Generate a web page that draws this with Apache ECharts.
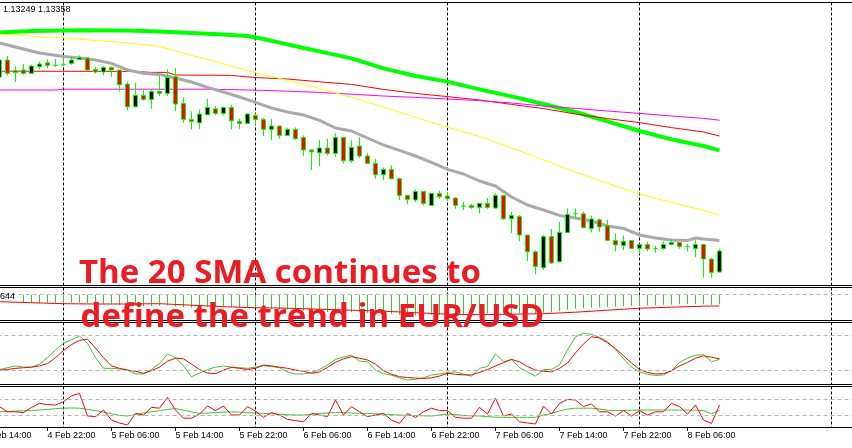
<!DOCTYPE html>
<html><head><meta charset="utf-8">
<script src="https://cdn.jsdelivr.net/npm/echarts@6/dist/echarts.min.js"></script>
<style>html,body{margin:0;padding:0;background:#fff;overflow:hidden}#c{width:852px;height:448px}</style>
</head><body><div id="c"></div>
<script>
// ---- time axis ----
const firstDay = 4, firstHour = 14, hourCount = 110;
const barOffset = 2; // first candle = 4 Feb 16:00
const tickLabels = ['4 Feb 14:00','4 Feb 22:00','5 Feb 06:00','5 Feb 14:00','5 Feb 22:00','6 Feb 06:00','6 Feb 14:00','6 Feb 22:00','7 Feb 06:00','7 Feb 14:00','7 Feb 22:00','8 Feb 06:00'];
const daySeparators = ['5 Feb 00:00','6 Feb 00:00','7 Feb 00:00','8 Feb 00:00','9 Feb 00:00'];
const headerText = '1.13249 1.13358';
const macdLabel = '644';
const captionLines = ['The 20 SMA continues to','define the trend in EUR/USD'];

// ---- EUR/USD H1 candles [open, close, low, high] ----
const ohlc = [
[1.14228,1.14313,1.14218,1.14323],[1.14313,1.14246,1.14236,1.14333],[1.14260,1.14250,1.14203,1.14283],[1.14263,1.14246,1.14239,1.14293],
[1.14246,1.14283,1.14243,1.14289],[1.14279,1.14293,1.14266,1.14306],[1.14299,1.14286,1.14273,1.14316],[1.14286,1.14286,1.14279,1.14319],
[1.14290,1.14289,1.14283,1.14329],[1.14296,1.14313,1.14289,1.14333],[1.14316,1.14326,1.14313,1.14336],[1.14323,1.14263,1.14256,1.14326],
[1.14266,1.14253,1.14246,1.14279],[1.14253,1.14276,1.14236,1.14283],[1.14276,1.14263,1.14229,1.14279],[1.14263,1.14189,1.14156,1.14263],
[1.14193,1.14079,1.14063,1.14203],[1.14079,1.14136,1.14076,1.14199],[1.14136,1.14116,1.14109,1.14166],[1.14116,1.14156,1.14069,1.14166],
[1.14156,1.14146,1.14133,1.14236],[1.14146,1.14226,1.14133,1.14266],[1.14229,1.14093,1.14059,1.14273],[1.14096,1.14016,1.13999,1.14126],
[1.14016,1.14006,1.13966,1.14056],[1.13999,1.14043,1.13969,1.14066],[1.14039,1.14076,1.14039,1.14119],[1.14069,1.14046,1.14036,1.14083],
[1.14046,1.14076,1.14036,1.14079],[1.14076,1.14009,1.13966,1.14089],[1.14006,1.13996,1.13969,1.14019],[1.13996,1.14043,1.13993,1.14046],
[1.14036,1.14016,1.13989,1.14046],[1.14016,1.13966,1.13933,1.14023],[1.13966,1.13983,1.13913,1.14019],[1.13983,1.13936,1.13919,1.13983],
[1.13936,1.13966,1.13933,1.13973],[1.13966,1.13919,1.13913,1.13976],[1.13926,1.13863,1.13833,1.13936],[1.13863,1.13853,1.13763,1.13863],
[1.13849,1.13873,1.13783,1.13913],[1.13873,1.13846,1.13836,1.13919],[1.13846,1.13926,1.13829,1.13946],[1.13926,1.13809,1.13796,1.13929],
[1.13809,1.13876,1.13799,1.13913],[1.13883,1.13833,1.13823,1.13928],[1.13833,1.13796,1.13793,1.13846],[1.13796,1.13739,1.13719,1.13819],
[1.13739,1.13766,1.13713,1.13776],[1.13766,1.13719,1.13716,1.13786],[1.13719,1.13636,1.13613,1.13726],[1.13636,1.13616,1.13593,1.13636],
[1.13613,1.13656,1.13603,1.13666],[1.13656,1.13596,1.13586,1.13656],[1.13586,1.13646,1.13586,1.13646],[1.13646,1.13629,1.13619,1.13659],
[1.13633,1.13619,1.13609,1.13653],[1.13623,1.13586,1.13569,1.13626],[1.13583,1.13583,1.13563,1.13603],[1.13586,1.13576,1.13569,1.13593],
[1.13576,1.13596,1.13546,1.13596],[1.13596,1.13576,1.13569,1.13623],[1.13573,1.13636,1.13569,1.13646],[1.13636,1.13519,1.13513,1.13636],
[1.13519,1.13536,1.13449,1.13553],[1.13531,1.13438,1.13408,1.13538],[1.13438,1.13354,1.13308,1.13438],[1.13354,1.13281,1.13241,1.13361],
[1.13274,1.13431,1.13264,1.13438],[1.13431,1.13298,1.13294,1.13468],[1.13304,1.13451,1.13301,1.13504],[1.13451,1.13541,1.13451,1.13571],
[1.13545,1.13545,1.13523,1.13571],[1.13544,1.13474,1.13471,1.13554],[1.13471,1.13518,1.13451,1.13534],[1.13514,1.13478,1.13454,1.13521],
[1.13484,1.13411,1.13411,1.13514],[1.13411,1.13388,1.13356,1.13446],[1.13385,1.13405,1.13363,1.13436],[1.13411,1.13371,1.13368,1.13413],
[1.13371,1.13391,1.13343,1.13393],[1.13391,1.13368,1.13356,1.13403],[1.13370,1.13370,1.13350,1.13383],[1.13371,1.13391,1.13363,1.13406],
[1.13391,1.13401,1.13386,1.13419],[1.13401,1.13380,1.13369,1.13403],[1.13380,1.13380,1.13355,1.13393],[1.13371,1.13391,1.13329,1.13416],
[1.13391,1.13318,1.13225,1.13393],[1.13318,1.13250,1.13225,1.13325],[1.13253,1.13358,1.13249,1.13368]
];
const lastClose = 1.13358;

// ---- moving averages: [bar index, price] ----
const sma20 = [[0,1.14398],[2,1.14378],[5,1.14348],[8,1.14330],[10,1.14323],[12,1.14313],[14,1.14296],[16,1.14263],[18,1.14247],[20,1.14241],[22,1.14223],[24,1.14203],[26,1.14176],[28,1.14153],[30,1.14128],[32,1.14101],[34,1.14073],[36,1.14053],[38,1.14038],[40,1.14011],[42,1.13973],[44,1.13958],[46,1.13923],[48,1.13888],[50,1.13861],[52,1.13833],[54,1.13801],[56,1.13766],[58,1.13743],[60,1.13708],[62,1.13683],[64,1.13628],[66,1.13588],[68,1.13563],[70,1.13536],[72,1.13523],[74,1.13508],[76,1.13483],[78,1.13471],[80,1.13438],[82,1.13423],[84,1.13413],[86,1.13411],[87,1.13423],[88,1.13418],[90,1.13411]];
const maGreen = [[0,1.14450],[4,1.14458],[10,1.14462],[16,1.14461],[20,1.14455],[24,1.14448],[28,1.14441],[31,1.14433],[33,1.14418],[35,1.14400],[38,1.14373],[40,1.14356],[44,1.14321],[48,1.14271],[52,1.14233],[56,1.14205],[60,1.14166],[64,1.14131],[68,1.14093],[72,1.14053],[76,1.14006],[80,1.13958],[84,1.13916],[88,1.13883],[90,1.13861]];
const maRed = [[0,1.14257],[17,1.14256],[19,1.14251],[21,1.14251],[22,1.14238],[29,1.14236],[30,1.14232],[32,1.14225],[36,1.14218],[40,1.14204],[44,1.14191],[48,1.14166],[52,1.14146],[56,1.14130],[60,1.14113],[64,1.14091],[68,1.14070],[72,1.14043],[76,1.14020],[80,1.14000],[84,1.13975],[88,1.13953],[90,1.13933]];
const maMagenta = [[0,1.14163],[7,1.14163],[8,1.14167],[26,1.14167],[30,1.14164],[33,1.14161],[36,1.14157],[40,1.14151],[44,1.14142],[48,1.14133],[52,1.14126],[56,1.14118],[60,1.14110],[64,1.14098],[68,1.14083],[72,1.14071],[76,1.14058],[80,1.14046],[84,1.14033],[88,1.14021],[90,1.14012]];
const maYellow = [[0,1.14442],[2,1.14437],[8,1.14423],[10,1.14417],[16,1.14398],[20,1.14381],[22,1.14358],[24,1.14336],[26,1.14316],[30,1.14271],[32,1.14248],[34,1.14231],[36,1.14211],[40,1.14171],[44,1.14126],[48,1.14078],[52,1.14026],[56,1.13977],[60,1.13931],[64,1.13873],[68,1.13813],[72,1.13753],[76,1.13696],[80,1.13643],[84,1.13601],[88,1.13561],[90,1.13538]];

// ---- MACD ----
const macdHist = [null,null,null,-0.00016,-0.00017,-0.00017,-0.00017,-0.00017,-0.00017,-0.00016,
-0.00016,-0.00017,-0.00018,-0.00018,-0.00018,-0.0002,-0.00022,-0.00022,-0.00023,-0.00022,
-0.00022,-0.00021,-0.00023,-0.00025,-0.00026,-0.00026,-0.00025,-0.00025,-0.00024,-0.00025,
-0.00026,-0.00026,-0.00026,-0.00027,-0.00028,-0.00029,-0.00029,-0.0003,-0.00032,-0.00034,
-0.00035,-0.00035,-0.00034,-0.00035,-0.00035,-0.00035,-0.00036,-0.00037,-0.00038,-0.00038,
-0.0004,-0.00041,-0.00041,-0.00041,-0.0004,-0.0004,-0.00039,-0.00039,-0.00039,-0.00039,
-0.00038,-0.00038,-0.00037,-0.00037,-0.00037,-0.00037,-0.00037,-0.00038,-0.00036,-0.00035,
-0.00033,-0.0003,-0.00028,-0.00027,-0.00026,-0.00025,-0.00025,-0.00024,-0.00023,-0.00022,
-0.00022,-0.00021,-0.00021,-0.0002,-0.0002,-0.00019,-0.00019,-0.00019,-0.00019,-0.0002,-0.00019];
const macdSignal = [[0,-0.00014],[4,-0.00016],[8,-0.00018],[12,-0.000186],[16,-0.000186],[20,-0.00018],[24,-0.00021],[28,-0.00024],[32,-0.00026],[36,-0.00027],[40,-0.00029],[44,-0.00031],[48,-0.00033],[52,-0.00036],[56,-0.00039],[60,-0.0004],[64,-0.00039],[68,-0.00038],[72,-0.00035],[76,-0.00031],[80,-0.00027],[84,-0.00025],[88,-0.00023],[90,-0.000226]];

// ---- Stochastic ----
const stochK = [22,25,28,26,26,31,42,55,66,72,78,66,42,24,24,23,21,14.5,14.5,22,32,48,42,28,10,16,22,26,28,26,25,24,26,28.5,27,25,18,14.5,14.5,17,22,29.5,39,43,46,36,35,21,15,12.5,8,4.4,5.5,8,12.8,14.5,17,18,14,11,24,27,48,35,39,25,18,11,22,22,30,55,77,83,81,76,69,55,40,26,18,14,12,13,20,34,41,46,47,35,39];
const stochD = [21,22,24,25,26,28,32,42,54,64,71,73,58,42,28,24,21,19,15.6,20,26,36,41,40,31,22,16,15,21,25.7,24,22,24,29.5,28,26,24,21,19,15.6,18,25.7,34,40,43.5,41,38,31,20,14,10,8.5,7.5,7,8,11,15.6,14,13,13,17,22,28,33.5,39,35,27,21,19,18,24,33,50,65,77,75,67,57,45,33,22,17,14.5,15,20,28,34,41,45,42.5,40];
const stochLevels = [80, 20];

// ---- lower oscillator ----
const oscFast = [51,38,38,36,49,59,56,55,63,78,84,27.5,26,42.5,17.5,10,5,34,30,49,47,74,42.5,22,22,32.5,52.5,41,52.5,30,30,51,40,24,36,30,19,16,13,34,30,26,67.5,30,51,38,26,30,34,17.5,9,34,24,38,47,41,41,24,22,22,49,32.5,72,27.5,32.5,13,10,7.5,52.5,32.5,59,69,67.5,51,57.5,38,38,27.5,41,27.5,41,30,38,38,59,51,32.5,55,17.5,9,55];
const oscSlow = [38,39,40,40.5,41,42.5,44,46,47,47.5,47,44,41,37,33,29,27.5,31,35,38,41,44,46,42,38,34,35,36,37,38,37,36,35,34,33,32,30.5,30,30,32,34,35,36,36,35,34,34,33,32,31,30,29,28.5,28,27.5,30,32.5,31,29,28,27.5,26,24.5,24,24,24,24,24,30,34,40,45,47,47,47,45,42,41,41.5,42,42.5,42.5,42.5,42.5,42.5,42.5,42.5,42,41,33,42];
const oscLevels = [70, 30];

// ---- build ----
const categories = [];
for (let k = 0; k < hourCount; k++) {
  const t = firstHour + k;
  const d = firstDay + Math.floor(t / 24), h = t % 24;
  categories.push(d + ' Feb ' + String(h).padStart(2, '0') + ':00');
}
const tickSet = new Set(tickLabels), daySet = new Set(daySeparators);
const atBars = arr => arr.map(([i, v]) => [i + barOffset, v]);
const perBar = arr => arr.map((v, i) => [i + barOffset, v]).filter(p => p[1] != null);

const GL = -16.5, GW = 872;
const grids = [
  {top: 2.5, height: 283},
  {top: 287.5, height: 33},
  {top: 322.5, height: 62},
  {top: 386.5, height: 41}
].map(g => Object.assign({left: GL, width: GW, show: true, borderColor: '#000', borderWidth: 1,
  backgroundColor: 'transparent', containLabel: false, outerBoundsMode: 'none'}, g));

const xAxes = grids.map((g, gi) => ({
  type: 'category', gridIndex: gi, data: categories, boundaryGap: false,
  axisLine: {show: false},
  axisTick: {show: gi === 3, interval: (i, v) => tickSet.has(v), length: 4, lineStyle: {color: '#000'}},
  axisLabel: {show: gi === 3, interval: (i, v) => tickSet.has(v), align: 'left', margin: 4,
    fontSize: 9, fontFamily: 'Liberation Sans', color: '#000'},
  splitLine: {show: true, interval: (i, v) => daySet.has(v), lineStyle: {color: '#000', type: [3, 2], width: 1}}
}));
const yAxes = [
  {gridIndex: 0, min: 1.131855, max: 1.146005},
  {gridIndex: 1, min: -0.000516, max: 0.000144},
  {gridIndex: 2, min: -3.2, max: 101.0},
  {gridIndex: 3, min: -1.25, max: 101.25}
].map(a => Object.assign({type: 'value', show: false, splitLine: {show: false}}, a));

const lvl = (vals) => ({silent: true, symbol: 'none', label: {show: false}, animation: false,
  lineStyle: {color: '#b4b4b4', type: [4, 3], width: 1}, data: vals.map(v => ({yAxis: v}))});
const line = (data, color, width, xi, z) => ({type: 'line', xAxisIndex: xi, yAxisIndex: xi, data: data,
  symbol: 'none', silent: true, z: z || 2, lineStyle: {color: color, width: width}, animation: false});

const series = [
  line(atBars(maGreen), '#00ff00', 4, 0),
  line(atBars(maRed), '#ff0000', 1, 0),
  line(atBars(maMagenta), '#ff00ff', 1, 0),
  line(atBars(maYellow), '#ffff00', 1, 0),
  line(atBars(sma20), '#a9a9a9', 3, 0),
  {type: 'candlestick', xAxisIndex: 0, yAxisIndex: 0, z: 5, barWidth: 4, silent: true,
    data: ohlc.map((d, i) => [i + barOffset, d[0], d[1], d[2], d[3]]),
    encode: {x: 0, y: [1, 2, 3, 4]},
    itemStyle: {color: '#000000', color0: '#ff0000', borderColor: '#00ff00', borderColor0: '#00ff00',
      borderColorDoji: '#00ff00', borderWidth: 1},
    markLine: {silent: true, symbol: 'none', label: {show: false}, animation: false,
      lineStyle: {color: '#778899', type: 'solid', width: 1}, data: [{yAxis: lastClose}]}},
  {type: 'bar', xAxisIndex: 1, yAxisIndex: 1, data: perBar(macdHist), barWidth: 1, silent: true,
    itemStyle: {color: '#32cd32'}, animation: false, markLine: lvl([0])},
  line(atBars(macdSignal), '#ff0000', 1, 1, 3),
  Object.assign(line(perBar(stochK), '#32cd32', 1, 2), {markLine: lvl(stochLevels)}),
  line(perBar(stochD), '#ff0000', 1, 2, 3),
  Object.assign(line(perBar(oscSlow), '#32cd32', 1, 3), {markLine: lvl(oscLevels)}),
  line(perBar(oscFast), '#ff0000', 1, 3, 3)
];

const chart = echarts.init(document.getElementById('c'), null, {renderer: 'canvas'});
chart.setOption({
  animation: false,
  backgroundColor: '#ffffff',
  grid: grids, xAxis: xAxes, yAxis: yAxes, series: series,
  graphic: [
    {type: 'text', left: 3, top: 5, z: 50, style: {text: headerText, font: '9px "Liberation Sans"', fill: '#000'}},
    {type: 'text', left: 0, top: 292, z: 50, style: {text: macdLabel, font: '9px "Liberation Sans"', fill: '#000'}},
    {type: 'text', left: 79, top: 257.5, z: 100, style: {text: captionLines[0], font: 'bold 33px "Open Sans"', fill: '#ec1c24'}},
    {type: 'text', left: 80.5, top: 301.5, z: 100, style: {text: captionLines[1], font: 'bold 33px "Open Sans"', fill: '#ec1c24'}}
  ]
});
</script></body></html>
